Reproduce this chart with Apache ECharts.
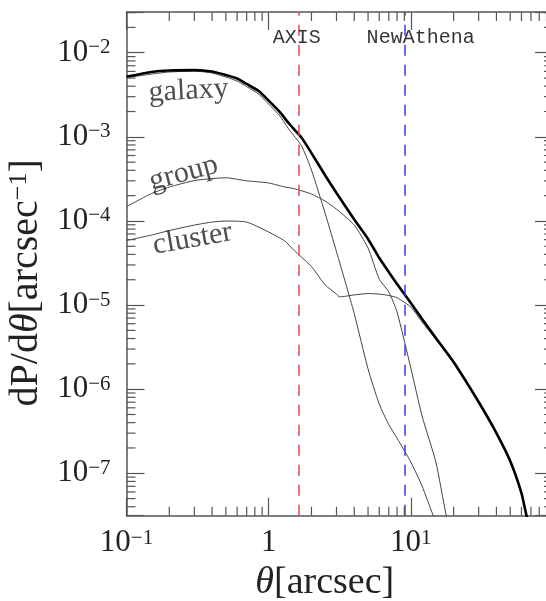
<!DOCTYPE html>
<html>
<head>
<meta charset="utf-8">
<script src="https://cdn.jsdelivr.net/npm/echarts@6/dist/echarts.min.js"></script>
<style>
html, body { margin: 0; padding: 0; background: #fff; }
#chart { width: 546px; height: 601px; }
</style>
</head>
<body>
<div id="chart"></div>
<script>
// valeurs (theta en arcsec, dP/dtheta en arcsec^-1)
const totalTheta = [0.1, 0.15, 0.2, 0.3, 0.4, 0.5, 0.6, 0.7, 0.85, 1, 1.2, 1.4, 1.7, 2, 2.5, 3, 4, 5, 6, 7, 8, 10, 12, 15, 20, 30, 40, 50, 60, 65, 70];
const totalVal = [5.19e-3, 5.90e-3, 6.14e-3, 6.22e-3, 5.97e-3, 5.43e-3, 4.93e-3, 4.25e-3, 3.51e-3, 2.70e-3, 1.97e-3, 1.42e-3, 9.82e-4, 6.41e-4, 3.47e-4, 2.15e-4, 1.04e-4, 6.10e-5, 3.62e-5, 2.47e-5, 1.78e-5, 1.06e-5, 6.81e-6, 4.06e-6, 2.10e-6, 7.03e-7, 3.01e-7, 1.40e-7, 5.82e-8, 3.18e-8, 2.11e-8];

const galaxyTheta = [0.1, 0.15, 0.2, 0.3, 0.4, 0.5, 0.6, 0.7, 0.85, 1, 1.2, 1.4, 1.7, 2, 2.5, 3, 3.5, 4, 5, 6, 7, 8, 10, 12, 14.3, 16];
const galaxyVal = [5.05e-3, 5.58e-3, 5.90e-3, 6.05e-3, 5.74e-3, 5.14e-3, 4.61e-3, 3.96e-3, 3.23e-3, 2.45e-3, 1.77e-3, 1.20e-3, 7.85e-4, 4.03e-4, 1.22e-4, 4.31e-5, 1.75e-5, 7.90e-6, 1.74e-6, 6.64e-7, 3.78e-7, 2.62e-7, 1.36e-7, 7.03e-8, 3.20e-8, 1.94e-8];

const groupTheta = [0.1, 0.15, 0.2, 0.3, 0.4, 0.5, 0.7, 1, 1.3, 1.5, 2, 2.5, 3, 4, 5, 6, 7, 8, 10, 12, 15, 17.6, 18.9];
const groupVal = [1.48e-4, 2.12e-4, 2.53e-4, 3.02e-4, 3.19e-4, 3.26e-4, 3.00e-4, 2.83e-4, 2.53e-4, 2.43e-4, 2.09e-4, 1.72e-4, 1.38e-4, 8.93e-5, 4.77e-5, 2.03e-5, 1.43e-5, 8.26e-6, 1.78e-6, 4.79e-7, 1.36e-7, 3.36e-8, 2.11e-8];

const clusterTheta = [0.1, 0.15, 0.2, 0.3, 0.4, 0.5, 0.7, 1, 1.3, 1.5, 2, 2.5, 3, 3.15, 4, 5, 6, 7, 8, 10, 12, 15, 20, 30, 40, 50, 60, 65, 70];
const clusterVal = [5.85e-5, 6.79e-5, 7.69e-5, 8.93e-5, 9.70e-5, 9.97e-5, 9.70e-5, 7.38e-5, 5.77e-5, 4.51e-5, 2.87e-5, 1.73e-5, 1.35e-5, 1.25e-5, 1.32e-5, 1.37e-5, 1.35e-5, 1.30e-5, 1.22e-5, 9.46e-6, 6.28e-6, 3.89e-6, 2.02e-6, 6.90e-7, 2.93e-7, 1.36e-7, 5.65e-8, 3.09e-8, 2.05e-8];

// PSF des instruments
const instruments = ['AXIS', 'NewAthena'];
const instrumentTheta = [1.62, 9.03];
const instrumentLabelTheta = [1.575, 11.72];
const instrumentLabelY = 1.52e-2;

// noms des courbes
const curveNames = ['galaxy', 'group', 'cluster'];
const curveLabelPos = [[0.2735, 3.51e-3], [0.252, 3.68e-4], [0.2917, 6.09e-5]];
const curveLabelRot = [3, 15, 10];

// axes
const xMin = 0.1, xMax = 100;
const yMin = 3.13e-8, yMax = 3.05e-2;
const minorMult = [2, 3, 4, 5, 6, 7, 8, 9];
const xDecades = [-1, 0, 1];
const yDecades = [-8, -7, -6, -5, -4, -3, -2];

function pairs(xs, ys) {
    return xs.map((x, i) => [x, ys[i]]);
}

function powLabel(v) {
    let e = Math.log10(v);
    let r = Math.round(e);
    if (Math.abs(e - r) > 1e-6) return '';
    if (r === 0) return '{b|1}';
    return '{b|10}{s|' + (r < 0 ? '\u2212' + (-r) : r) + '}';
}

const serif = 'Liberation Serif';
const labelRich = {
    b: { fontFamily: serif, fontSize: 31, color: '#222' },
    s: { fontFamily: serif, fontSize: 21, color: '#222', verticalAlign: 'top' }
};

let minorTicks = [];
xDecades.forEach(d => minorMult.forEach(m => {
    let v = m * Math.pow(10, d);
    if (v > xMin && v < xMax) minorTicks.push([v, yMin, 0]);
}));
yDecades.forEach(d => minorMult.forEach(m => {
    let v = m * Math.pow(10, d);
    if (v > yMin && v < yMax) minorTicks.push([xMin, v, 1]);
}));

function axisBase(extra) {
    return Object.assign({
        type: 'log',
        logBase: 10,
        axisLine: { show: true, lineStyle: { color: '#555', width: 1.5 } },
        axisTick: { show: true, inside: true, length: 18, lineStyle: { color: '#555', width: 1.2 } },
        splitLine: { show: false },
        minorTick: { show: false }
    }, extra);
}

let chart = echarts.init(document.getElementById('chart'));

let thinStyle = { color: '#444', width: 1 };

let options = {
    animation: false,
    backgroundColor: '#fff',
    grid: { left: 126.5, right: -7, top: 12, bottom: 85.3, containLabel: false, outerBoundsMode: 'none' },
    xAxis: [
        axisBase({
            position: 'bottom', min: xMin, max: xMax,
            axisLabel: { margin: 12, formatter: v => (v > 50 ? '' : powLabel(v)), rich: labelRich },
            name: '{i|θ}{t|[arcsec]}',
            nameLocation: 'middle',
            nameGap: 47,
            nameTextStyle: {
                padding: [0, 30, 0, 0],
                rich: {
                    i: { fontFamily: serif, fontSize: 38, fontStyle: 'italic', color: '#222' },
                    t: { fontFamily: serif, fontSize: 38, color: '#222' }
                }
            }
        }),
        axisBase({ position: 'top', min: xMin, max: xMax, axisLabel: { show: false } })
    ],
    yAxis: [
        axisBase({
            position: 'left', min: yMin, max: yMax,
            axisLabel: { margin: 16, formatter: powLabel, rich: labelRich },
            name: '{t|dP/d}{i|θ}{t|[arcsec}{s|\u22121}{t|]}',
            nameLocation: 'middle',
            nameGap: 74,
            nameTextStyle: {
                padding: [0, 38, 0, 0],
                rich: {
                    t: { fontFamily: serif, fontSize: 40, color: '#222' },
                    i: { fontFamily: serif, fontSize: 40, fontStyle: 'italic', color: '#222' },
                    s: { fontFamily: serif, fontSize: 26, color: '#222', verticalAlign: 'top' }
                }
            }
        }),
        axisBase({ position: 'right', min: yMin, max: yMax, axisLabel: { show: false } })
    ],
    series: [
        { name: 'galaxy', type: 'line', data: pairs(galaxyTheta, galaxyVal), showSymbol: false, smooth: 0.2, lineStyle: thinStyle, z: 3 },
        { name: 'group', type: 'line', data: pairs(groupTheta, groupVal), showSymbol: false, smooth: 0.2, lineStyle: thinStyle, z: 3 },
        { name: 'cluster', type: 'line', data: pairs(clusterTheta, clusterVal), showSymbol: false, smooth: 0.2, lineStyle: thinStyle, z: 3 },
        {
            name: 'total', type: 'line', data: pairs(totalTheta, totalVal), showSymbol: false, smooth: 0.2,
            lineStyle: { color: '#000', width: 2.6 }, z: 4,
            markLine: {
                silent: true, symbol: 'none', animation: false,
                label: { show: false },
                data: [
                    { xAxis: instrumentTheta[0], lineStyle: { color: '#e8474a', type: [11, 9], width: 1.5 } },
                    { xAxis: instrumentTheta[1], lineStyle: { color: '#3a3aee', type: [11, 9], width: 1.5 } }
                ]
            }
        },
        {
            name: 'instruments', type: 'scatter', symbolSize: 1, itemStyle: { color: 'rgba(0,0,0,0)' }, z: 5,
            data: instruments.map((n, i) => ({ name: n, value: [instrumentLabelTheta[i], instrumentLabelY] })),
            label: { show: true, position: 'inside', formatter: '{b}', fontFamily: 'Liberation Mono', fontSize: 20, color: '#000' }
        },
        {
            name: 'curveNames', type: 'scatter', symbolSize: 1, itemStyle: { color: 'rgba(0,0,0,0)' }, z: 5,
            data: curveNames.map((n, i) => ({
                name: n, value: curveLabelPos[i],
                label: { rotate: curveLabelRot[i] }
            })),
            label: { show: true, position: 'inside', formatter: '{b}', fontFamily: serif, fontSize: 30, color: '#222' }
        },
        {
            // petites graduations sur les 4 cotes
            name: 'minorTicks', type: 'custom', z: 6, silent: true,
            data: minorTicks,
            renderItem: function (params, api) {
                let cs = params.coordSys;
                let len = 9;
                let style = { stroke: '#555', lineWidth: 1.2 };
                if (api.value(2) === 0) {
                    let x = api.coord([api.value(0), yMin])[0];
                    return { type: 'group', children: [
                        { type: 'line', shape: { x1: x, y1: cs.y + cs.height, x2: x, y2: cs.y + cs.height - len }, style: style },
                        { type: 'line', shape: { x1: x, y1: cs.y, x2: x, y2: cs.y + len }, style: style }
                    ] };
                }
                let y = api.coord([xMin, api.value(1)])[1];
                return { type: 'group', children: [
                    { type: 'line', shape: { x1: cs.x, y1: y, x2: cs.x + len, y2: y }, style: style },
                    { type: 'line', shape: { x1: cs.x + cs.width, y1: y, x2: cs.x + cs.width - len, y2: y }, style: style }
                ] };
            }
        }
    ]
};

chart.setOption(options);
</script>
</body>
</html>
